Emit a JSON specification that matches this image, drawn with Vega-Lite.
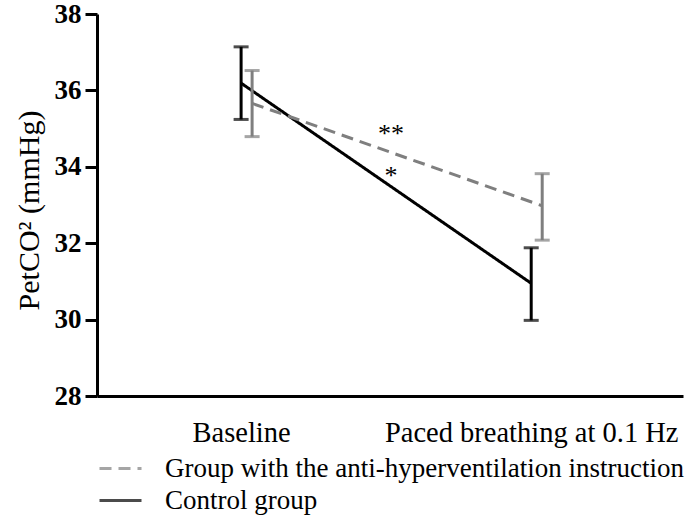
{
  "$schema": "https://vega.github.io/schema/vega-lite/v6.json",
  "width": 586,
  "height": 382,
  "autosize": {"type": "none"},
  "padding": {"left": 97, "top": 14, "right": 2, "bottom": 123},
  "background": "white",
  "config": {
    "view": {"stroke": null},
    "font": "Liberation Serif"
  },
  "datasets": {
    "main": [
      {"group": "Control group", "condition": "Baseline", "mean": 36.19, "lo": 35.24, "hi": 37.14},
      {"group": "Control group", "condition": "Paced breathing at 0.1 Hz", "mean": 30.95, "lo": 29.98, "hi": 31.88},
      {"group": "Group with the anti-hyperventilation instruction", "condition": "Baseline", "mean": 35.66, "lo": 34.79, "hi": 36.52},
      {"group": "Group with the anti-hyperventilation instruction", "condition": "Paced breathing at 0.1 Hz", "mean": 32.98, "lo": 32.08, "hi": 33.82}
    ],
    "marks": [
      {"label": "**", "condition": "Baseline", "y": 34.85},
      {"label": "*", "condition": "Baseline", "y": 33.75}
    ]
  },
  "encoding": {
    "x": {
      "field": "condition",
      "type": "nominal",
      "scale": {"type": "point", "domain": ["Baseline", "Paced breathing at 0.1 Hz"], "padding": 0.51, "align": 0.487},
      "axis": {
        "title": null,
        "labelAngle": 0,
        "ticks": false,
        "tickSize": 0,
        "labelPadding": 22,
        "labelLimit": 600,
        "labelOverlap": false,
        "labelFont": "Liberation Serif",
        "labelFontSize": 28.5,
        "labelColor": "#000000",
        "domainColor": "#000000",
        "domainWidth": 3,
        "grid": false
      }
    }
  },
  "layer": [
    {
      "data": {"name": "main"},
      "mark": {"type": "line", "strokeWidth": 3},
      "encoding": {
        "xOffset": {"field": "group", "type": "nominal", "scale": {"type": "point", "domain": ["Control group", "Group with the anti-hyperventilation instruction"], "range": [0, 11], "padding": 0}},
        "y": {
          "field": "mean",
          "type": "quantitative",
          "scale": {"domain": [28, 38], "nice": false, "zero": false},
          "axis": {
            "values": [28, 30, 32, 34, 36, 38],
            "title": "PetCO² (mmHg)",
            "titleFont": "Liberation Serif",
            "titleFontSize": 30,
            "titleFontWeight": "normal",
            "titleColor": "#000000",
            "titleX": -59,
            "titleY": 196,
            "titleAngle": -90,
            "titleAlign": "center",
            "titleBaseline": "alphabetic",
            "labelFont": "Liberation Serif",
            "labelFontSize": 27,
            "labelFontWeight": "bold",
            "labelColor": "#000000",
            "labelPadding": 4,
            "tickSize": 12,
            "tickWidth": 3,
            "tickColor": "#000000",
            "domainColor": "#000000",
            "domainWidth": 3,
            "grid": false
          }
        },
        "color": {
          "field": "group",
          "type": "nominal",
          "scale": {"domain": ["Group with the anti-hyperventilation instruction", "Control group"], "range": ["#7f7f7f", "#000000"]},
          "legend": {
            "title": null,
            "orient": "none",
            "legendX": 10,
            "legendY": 441,
            "symbolType": "M-2,0H2",
            "symbolSize": 441,
            "symbolStrokeWidth": 3,
            "labelFont": "Liberation Serif",
            "labelFontSize": 27,
            "labelColor": "#000000",
            "labelOffset": 31,
            "rowPadding": 4,
            "labelLimit": 600
          }
        },
        "strokeDash": {
          "field": "group",
          "type": "nominal",
          "scale": {"domain": ["Group with the anti-hyperventilation instruction", "Control group"], "range": [[12, 7], [1, 0]]},
          "legend": {
            "title": null,
            "orient": "none",
            "legendX": 10,
            "legendY": 441,
            "symbolType": "M-2,0H2",
            "symbolSize": 441,
            "symbolStrokeWidth": 3,
            "labelFont": "Liberation Serif",
            "labelFontSize": 27,
            "labelColor": "#000000",
            "labelOffset": 31,
            "rowPadding": 4,
            "labelLimit": 600
          }
        }
      }
    },
    {
      "data": {"name": "main"},
      "mark": {"type": "rule", "strokeWidth": 3},
      "encoding": {
        "xOffset": {"field": "group", "type": "nominal", "scale": {"type": "point", "domain": ["Control group", "Group with the anti-hyperventilation instruction"], "range": [0, 11], "padding": 0}},
        "y": {"field": "lo", "type": "quantitative"},
        "y2": {"field": "hi"},
        "color": {"field": "group", "type": "nominal"}
      }
    },
    {
      "data": {"name": "main"},
      "mark": {"type": "tick", "size": 15, "thickness": 3},
      "encoding": {
        "xOffset": {"field": "group", "type": "nominal", "scale": {"type": "point", "domain": ["Control group", "Group with the anti-hyperventilation instruction"], "range": [0, 11], "padding": 0}},
        "y": {"field": "lo", "type": "quantitative"},
        "color": {"field": "group", "type": "nominal"}
      }
    },
    {
      "data": {"name": "main"},
      "mark": {"type": "tick", "size": 15, "thickness": 3},
      "encoding": {
        "xOffset": {"field": "group", "type": "nominal", "scale": {"type": "point", "domain": ["Control group", "Group with the anti-hyperventilation instruction"], "range": [0, 11], "padding": 0}},
        "y": {"field": "hi", "type": "quantitative"},
        "color": {"field": "group", "type": "nominal"}
      }
    },
    {
      "data": {"name": "marks"},
      "mark": {"type": "text", "dx": 150, "font": "Liberation Serif", "fontSize": 26, "baseline": "middle", "align": "center", "fill": "#000000"},
      "encoding": {
        "y": {"field": "y", "type": "quantitative"},
        "text": {"field": "label"}
      }
    }
  ]
}
